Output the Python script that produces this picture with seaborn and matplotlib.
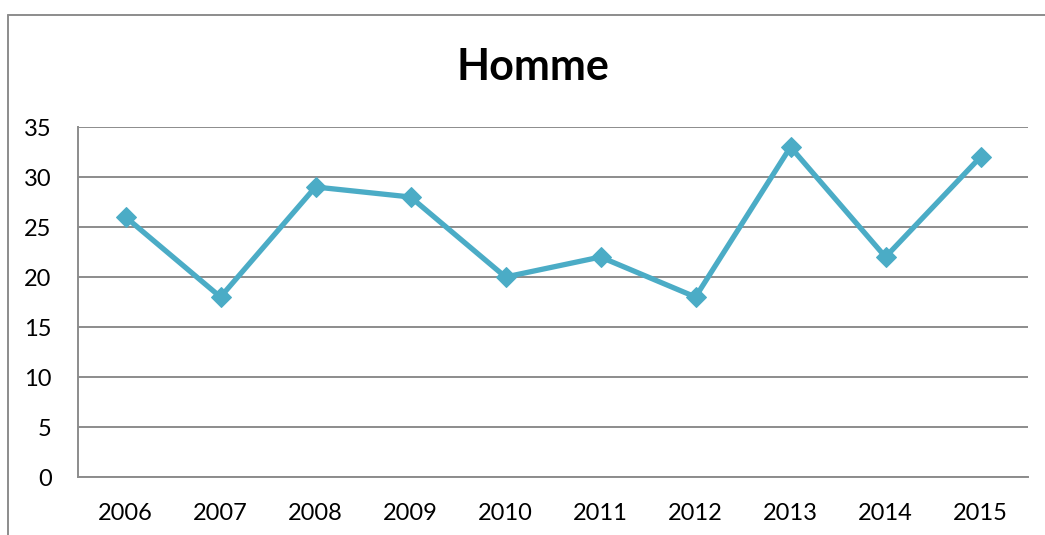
import matplotlib
matplotlib.use("Agg")
import pandas as pd
import seaborn as sns
import matplotlib.pyplot as plt
from matplotlib.lines import Line2D

# Data
years = [2006, 2007, 2008, 2009, 2010, 2011, 2012, 2013, 2014, 2015]
homme = [26, 18, 29, 28, 20, 22, 18, 33, 22, 32]

df = pd.DataFrame({"Année": years, "Homme": homme})

sns.set_style("white")
plt.rcParams["font.family"] = ["Lato", "DejaVu Sans"]
plt.rcParams["text.color"] = "black"

fig = plt.figure(figsize=(10.45, 5.35), dpi=100)
ax = fig.add_axes([78 / 1045, 58 / 535, 950 / 1045, 350 / 535])

grid_col = "#8c8c8c"
line_col = "#4bacc6"

sns.lineplot(data=df, x="Année", y="Homme", ax=ax, color=line_col,
             linewidth=3.8, marker="D", markersize=10.5,
             markeredgecolor=line_col, markerfacecolor=line_col, zorder=3)

ax.set_xlim(years[0] - 0.5, years[-1] + 0.5)
ax.set_ylim(0, 35)
ax.set_xticks(years)
ax.set_xticklabels([str(y) for y in years])
ax.set_yticks(range(0, 36, 5))
ax.set_xlabel("")
ax.set_ylabel("")

ax.yaxis.grid(True, color=grid_col, linewidth=1.4)
ax.xaxis.grid(False)
ax.set_axisbelow(True)
for side in ["top", "right"]:
    ax.spines[side].set_visible(False)
for side in ["left", "bottom"]:
    ax.spines[side].set_color(grid_col)
    ax.spines[side].set_linewidth(1.4)

ax.tick_params(axis="both", length=0, labelsize=17, colors="black")
ax.tick_params(axis="y", pad=19)
ax.tick_params(axis="x", pad=19)

fig.text(533 / 1045, 1 - 67 / 535, "Homme", ha="center", va="center",
         fontsize=31, fontweight="bold", color="black")

# outer chart border (left and top visible)
fig.add_artist(Line2D([8 / 1045, 8 / 1045], [0, 1 - 15 / 535],
                      transform=fig.transFigure, color=grid_col, linewidth=1.4))
fig.add_artist(Line2D([8 / 1045, 1], [1 - 15 / 535, 1 - 15 / 535],
                      transform=fig.transFigure, color=grid_col, linewidth=1.4))

fig.savefig("out.png", dpi=100, facecolor="white")
